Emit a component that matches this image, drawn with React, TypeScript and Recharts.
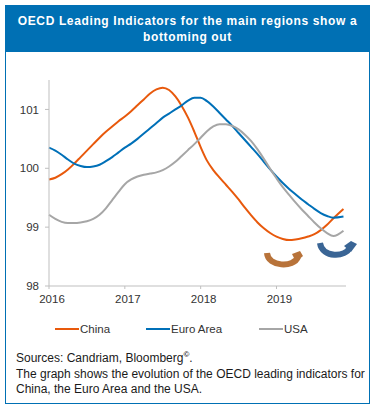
import React from "react";
import { LineChart, Line, XAxis, YAxis, Legend } from "recharts";

const months = [0,1,2,3,4,5,6,7,8,9,10,11,12,13,14,15,16,17,18,19,20,21,22,23,24,25,26,27,28,29,30,31,32,33,34,35,36,37,38,39,40,41,42,43,44,45,46.6];
const china = [99.81,99.84,99.90,99.98,100.08,100.19,100.30,100.41,100.52,100.62,100.71,100.80,100.88,100.97,101.07,101.17,101.27,101.34,101.37,101.33,101.22,101.06,100.86,100.62,100.36,100.13,99.97,99.84,99.72,99.60,99.47,99.33,99.20,99.08,98.98,98.90,98.84,98.80,98.78,98.79,98.81,98.84,98.88,98.95,99.04,99.15,99.31];
const euro = [100.35,100.30,100.23,100.15,100.08,100.04,100.02,100.03,100.06,100.12,100.19,100.27,100.35,100.42,100.50,100.59,100.68,100.77,100.86,100.93,101.0,101.07,101.15,101.2,101.2,101.14,101.05,100.94,100.83,100.72,100.6,100.48,100.36,100.24,100.11,99.98,99.86,99.75,99.65,99.56,99.47,99.39,99.31,99.24,99.19,99.16,99.18];
const usa = [99.21,99.14,99.09,99.07,99.07,99.08,99.10,99.14,99.21,99.32,99.46,99.60,99.73,99.81,99.86,99.89,99.91,99.93,99.97,100.03,100.11,100.21,100.31,100.41,100.52,100.63,100.71,100.75,100.75,100.72,100.66,100.57,100.46,100.32,100.16,99.99,99.83,99.68,99.55,99.42,99.30,99.19,99.08,98.98,98.90,98.85,98.94];
const yearTicks = [0,12,24,36];
const yearLabels = ["2016","2017","2018","2019"];
const valueTicks = [98,99,100,101];
const rows = months.map((m,i)=>({m,china:china[i],euro:euro[i],usa:usa[i]}));

const FONT = "'Liberation Sans', Arial, sans-serif";
const AXIS = "#bfbfbf";
const legendOffsets: Record<string, number> = { China: 55, "Euro Area": 146, USA: 259 };

function LegendRow({ payload }: any) {
  return (
    <div style={{ position: "relative", height: 39, fontFamily: FONT, fontSize: 11.5, color: "#333" }}>
      {(payload || []).map((p: any) => (
        <div key={p.value} style={{ position: "absolute", left: legendOffsets[p.value], top: 17, display: "flex", alignItems: "center", whiteSpace: "nowrap" }}>
          <span style={{ display: "inline-block", width: 24, height: 2, background: p.color, marginRight: 1 }} />
          <span>{p.value}</span>
        </div>
      ))}
    </div>
  );
}

export default function App() {
  return (
    <div style={{ position: "absolute", left: 0, top: 0, width: 375, height: 408, background: "#fff", overflow: "hidden", fontFamily: FONT }}>
      <div style={{ position: "absolute", left: 5, top: 5, width: 363, height: 397, border: "1px solid #0070b4" }} />
      <div style={{ position: "absolute", left: 5, top: 5, width: 365, height: 47, background: "#0070b4", color: "#fff", fontWeight: 700, fontSize: 12, lineHeight: "16px", textAlign: "center", paddingTop: 8, boxSizing: "border-box", letterSpacing: 0.63 }}>
        <div>OECD Leading Indicators for the main regions show a</div>
        <div>bottoming out</div>
      </div>
      <div style={{ position: "absolute", left: 0, top: 0 }}>
        <LineChart width={375} height={345} data={rows} margin={{ top: 80, right: 29, bottom: 0, left: 0 }}>
          <XAxis dataKey="m" type="number" domain={[0, 47]} ticks={yearTicks} tickFormatter={(v: number) => yearLabels[yearTicks.indexOf(v)]} height={20} stroke={AXIS} tickSize={3} tickMargin={6} dx={3} tick={{ fill: "#333", fontSize: 11.5, fontFamily: FONT }} />
          <YAxis domain={[98, 101.5]} ticks={valueTicks} width={49} stroke={AXIS} tickSize={4} tickMargin={6} tick={{ fill: "#333", fontSize: 11.5, fontFamily: FONT }} />
          <Legend verticalAlign="bottom" height={39} content={<LegendRow />} />
          <Line dataKey="china" name="China" stroke="#e8590c" strokeWidth={2} dot={false} type="monotone" isAnimationActive={false} />
          <Line dataKey="euro" name="Euro Area" stroke="#0070b8" strokeWidth={2} dot={false} type="monotone" isAnimationActive={false} />
          <Line dataKey="usa" name="USA" stroke="#a6a6a6" strokeWidth={2} dot={false} type="monotone" isAnimationActive={false} />
        </LineChart>
      </div>
      <svg width={375} height={408} style={{ position: "absolute", left: 0, top: 0, pointerEvents: "none" }}>
        <path d="M267 253 C268 267 294 268 298 257" fill="none" stroke="#b8733a" strokeWidth={6} />
        <path d="M292 254 L300 251 L303 256 L296 262 Z" fill="#b8733a" />
        <path d="M320 243 C322 258 346 258 350 247" fill="none" stroke="#3a6595" strokeWidth={6} />
        <path d="M344 246 L351 241 L357 244 L351 252 Z" fill="#3a6595" />
      </svg>
      <div style={{ position: "absolute", left: 16, top: 351, fontSize: 12, lineHeight: "15.5px", color: "#1a1a1a", whiteSpace: "nowrap" }}>
        <div>Sources: Candriam, Bloomberg<sup style={{ fontSize: 8, lineHeight: 0, fontWeight: 700 }}>©</sup>.</div>
        <div>The graph shows the evolution of the OECD leading indicators for</div>
        <div>China, the Euro Area and the USA.</div>
      </div>
    </div>
  );
}
